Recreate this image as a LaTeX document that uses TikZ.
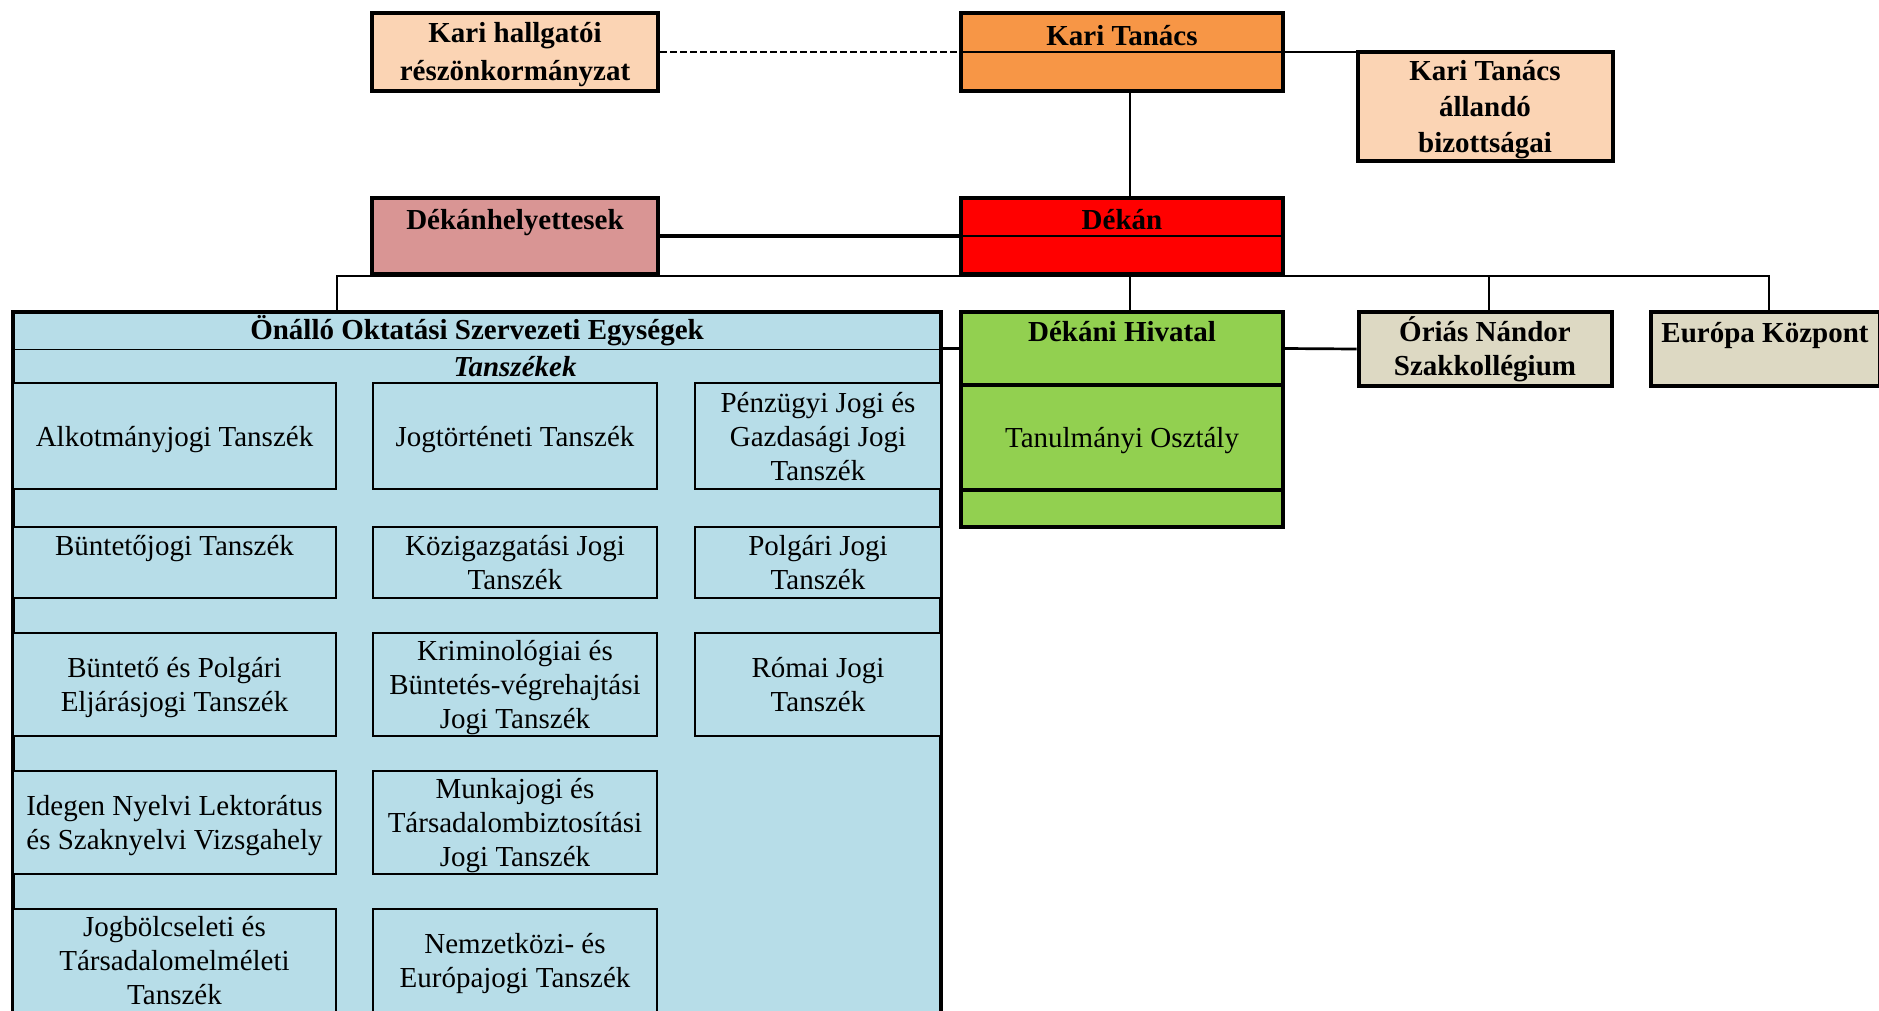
\documentclass[tikz,border=0pt]{standalone}
\usepackage{fontspec}
\setmainfont{Liberation Serif}
\definecolor{barack}{HTML}{FBD4B4}
\definecolor{narancs}{HTML}{F79646}
\definecolor{rozsa}{HTML}{D99594}
\definecolor{piros}{HTML}{FF0000}
\definecolor{kek}{HTML}{B7DDE8}
\definecolor{zold}{HTML}{92D050}
\definecolor{bezs}{HTML}{DDD9C3}
\tikzset{
  doboz/.style={draw, line width=4pt, inner sep=0pt, align=center, font=\bfseries},
  fent/.style={text depth=0pt},
  tanszek/.style={draw, line width=2pt, fill=kek, inner sep=0pt, align=center, text depth=-1pt},
  vonal/.style={line width=2.7pt},
}
\begin{document}
\fontsize{29}{34}\selectfont
\begin{tikzpicture}[x=1pt,y=-1pt]
\useasboundingbox (0,0) rectangle (1879,1010);
\clip (0,0) rectangle (1879,1010);

% felso sor
\node[doboz, fill=barack, text depth=2pt, minimum width=286, minimum height=78] (khr) at (515,52) {Kari hallgatói\\[4pt]részönkormányzat};
\node[doboz, fent, fill=narancs, minimum width=322, minimum height=78] (kt) at (1122,52) {Kari Tanács\\\strut};
\node[doboz, fill=barack, text depth=-2pt, minimum width=255, minimum height=109] (kta) at (1485,106) {Kari Tanács\\[2pt]állandó\\[2pt]bizottságai};
\draw[line width=1.4pt] (kt.west) -- (kt.east);

\node[doboz, fent, fill=rozsa, minimum width=286, minimum height=76] (dhe) at (515,236) {Dékánhelyettesek\\\strut};
\node[doboz, fent, fill=piros, minimum width=322, minimum height=76] (dek) at (1122,236) {Dékán\\\strut};
\draw[line width=1.4pt] (dek.west) -- (dek.east);

% onallo egysegek
\node[doboz, fill=kek, minimum width=928, minimum height=740] (oe) at (477,682) {};
\node[font=\bfseries, inner sep=0pt, minimum width=928, minimum height=37,
  execute at begin node=\rule{0pt}{25pt}] (oecim) at (477,330.5) {Önálló Oktatási Szervezeti Egységek};
\draw[line width=1.4pt] (oecim.south west) -- (oecim.south east);
\node[font=\bfseries\itshape] (tsz) at (515,367) {Tanszékek};

\node[tanszek, minimum width=323, minimum height=106] (alk) at (174.5,436) {Alkotmányjogi Tanszék};
\node[tanszek, minimum width=284, minimum height=106] (jtt) at (515,436) {Jogtörténeti Tanszék};
\node[tanszek, minimum width=246, minimum height=106] (pjt) at (818,436) {Pénzügyi Jogi és\\Gazdasági Jogi\\Tanszék};

\node[tanszek, minimum width=323, minimum height=71] (bjt) at (174.5,562.5) {Büntetőjogi Tanszék\\\strut};
\node[tanszek, minimum width=284, minimum height=71] (kjt) at (515,562.5) {Közigazgatási Jogi\\Tanszék};
\node[tanszek, minimum width=246, minimum height=71] (poj) at (818,562.5) {Polgári Jogi\\Tanszék};

\node[tanszek, minimum width=323, minimum height=103] (bpe) at (174.5,684.5) {Büntető és Polgári\\Eljárásjogi Tanszék};
\node[tanszek, minimum width=284, minimum height=103] (krim) at (515,684.5) {Kriminológiai és\\Büntetés-végrehajtási\\Jogi Tanszék};
\node[tanszek, minimum width=246, minimum height=103] (roj) at (818,684.5) {Római Jogi\\Tanszék};

\node[tanszek, minimum width=323, minimum height=103] (inyl) at (174.5,822.5) {Idegen Nyelvi Lektorátus\\és Szaknyelvi Vizsgahely};
\node[tanszek, minimum width=284, minimum height=103] (mtj) at (515,822.5) {Munkajogi és\\Társadalombiztosítási\\Jogi Tanszék};

\node[tanszek, minimum width=323, minimum height=103] (jbt) at (174.5,960.5) {Jogbölcseleti és\\Társadalomelméleti\\Tanszék};
\node[tanszek, minimum width=284, minimum height=103] (nej) at (515,960.5) {Nemzetközi- és\\Európajogi Tanszék};

% dekani hivatal es tobbiek
\node[doboz, fent, fill=zold, minimum width=322, minimum height=73] (dhiv) at (1122,348.5) {Dékáni Hivatal\\\strut};
\node[doboz, fill=zold, font=\mdseries, text depth=-1pt, minimum width=322, minimum height=105] (tanos) at (1122,437.5) {Tanulmányi Osztály};
\node[doboz, fill=zold, minimum width=322, minimum height=37] (dhalso) at (1122,508.5) {};

\node[doboz, fill=bezs, minimum width=253, minimum height=74] (orias) at (1485,349) {Óriás Nándor\\Szakkollégium};
\node[doboz, fent, fill=bezs, minimum width=229, minimum height=74] (eur) at (1765,349) {Európa Központ\\\strut};

% vonalak
\draw[vonal, dash pattern=on 7pt off 3pt] (khr.east) -- (kt.west);
\draw[vonal] (kt.east) -- (kt.east -| kta.west);
\draw[vonal] ([xshift=8pt]kt.south) -- ([xshift=8pt]dek.north);
\draw[line width=3.4pt] (dhe.east) -- (dek.west);
\draw[vonal] ([xshift=8pt]dek.south) -- ([xshift=8pt]dhiv.north);
\draw[vonal] (alk.east |- oe.north) |- ([xshift=4pt]eur.north |- dek.south) -- ([xshift=4pt]eur.north);
\draw[vonal] ([xshift=4pt]orias.north) -- ([xshift=4pt]orias.north |- dek.south);
\draw[vonal] (oe.east |- dhiv.west) -- (dhiv.west);
\draw[vonal] (dhiv.east) -- (orias.west);

\end{tikzpicture}
\end{document}
